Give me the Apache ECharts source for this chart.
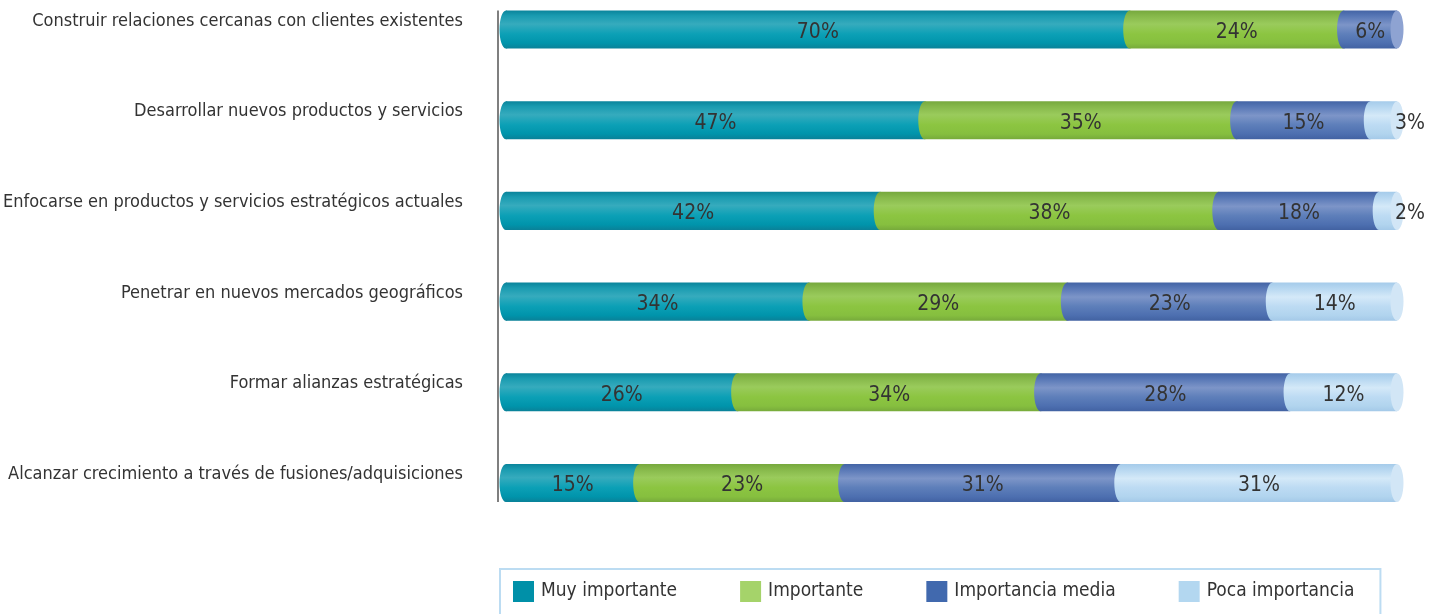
<!DOCTYPE html>
<html>
<head>
<meta charset="utf-8">
<script src="https://cdn.jsdelivr.net/npm/echarts@6/dist/echarts.min.js"></script>
<style>
  html, body { margin: 0; padding: 0; background: #ffffff; }
  #chart { width: 1441px; height: 614px; }
</style>
</head>
<body>
<div id="chart"></div>
<script>
// Prioridades estratégicas: porcentaje de respuestas por nivel de importancia
const categories = [
  'Construir relaciones cercanas con clientes existentes',
  'Desarrollar nuevos productos y servicios',
  'Enfocarse en productos y servicios estratégicos actuales',
  'Penetrar en nuevos mercados geográficos',
  'Formar alianzas estratégicas',
  'Alcanzar crecimiento a través de fusiones/adquisiciones'
];
const seriesNames = ['Muy importante', 'Importante', 'Importancia media', 'Poca importancia'];
const muyImportante    = [70, 47, 42, 34, 26, 15];
const importante       = [24, 35, 38, 29, 34, 23];
const importanciaMedia = [6, 15, 18, 23, 28, 31];
const pocaImportancia  = [0, 3, 2, 14, 12, 31];

const FONT = "'DejaVu Sans Condensed', 'Liberation Sans Narrow', 'Roboto Condensed', sans-serif";
const TEXT_COLOR = '#333333';

// Cylinder shading per level: flat legend colour, body gradient, end-cap colour
const palette = [
  { flat: '#0090a8', cap: '#3aaabd',
    stops: [[0, '#0a849b'], [0.14, '#1a9bb0'], [0.36, '#36abbd'], [0.62, '#0ca0b6'], [0.86, '#0094ab'], [1, '#0a8198']] },
  { flat: '#a5d36a', cap: '#b3da80',
    stops: [[0, '#76a83d'], [0.14, '#86b84a'], [0.36, '#9acb5c'], [0.62, '#8cc541'], [0.86, '#86bf3f'], [1, '#77aa3b']] },
  { flat: '#4169ae', cap: '#8ea3d2',
    stops: [[0, '#4364a5'], [0.14, '#5676b5'], [0.38, '#7d95c8'], [0.62, '#5e7fba'], [0.86, '#4d6fb0'], [1, '#4262a2']] },
  { flat: '#b3d7f0', cap: '#d2e6f6',
    stops: [[0, '#a5cbea'], [0.14, '#b5d6f0'], [0.38, '#d4e9f8'], [0.62, '#bddbf3'], [0.86, '#b1d4ee'], [1, '#a4c9e8']] }
];

const levels = [muyImportante, importante, importanciaMedia, pocaImportancia];

// Cumulative start/end per segment, flagging the segment that closes each bar
function buildSeriesData(levelIndex) {
  return categories.map((c, ci) => {
    let start = 0;
    for (let k = 0; k < levelIndex; k++) start += levels[k][ci];
    const v = levels[levelIndex][ci];
    let lastIdx = 0;
    for (let k = 0; k < levels.length; k++) if (levels[k][ci] > 0) lastIdx = k;
    return [start, start + v, ci, v, lastIdx === levelIndex ? 1 : 0];
  });
}

function gradient(stops) {
  return new echarts.graphic.LinearGradient(0, 0, 0, 1,
    stops.map(s => ({ offset: s[0], color: s[1] })));
}

function makeRenderItem(levelIndex) {
  const pal = palette[levelIndex];
  return function (params, api) {
    const v = api.value(3);
    if (!v) return null;
    const ci = api.value(2);
    const p0 = api.coord([api.value(0), ci]);
    const p1 = api.coord([api.value(1), ci]);
    const h = api.size([0, 1])[1] * 0.42;
    const ry = h / 2;
    const rx = 6.5;
    const cy = p0[1];
    const children = [
      { type: 'rect', shape: { x: p0[0], y: cy - ry, width: p1[0] - p0[0], height: h },
        style: { fill: gradient(pal.stops) } },
      { type: 'ellipse', shape: { cx: p0[0], cy: cy, rx: rx, ry: ry },
        style: { fill: gradient(pal.stops) } }
    ];
    const last = api.value(4) === 1;
    if (last) {
      children.push({ type: 'ellipse', shape: { cx: p1[0], cy: cy, rx: rx, ry: ry },
        style: { fill: pal.cap } });
    }
    const outside = last && v < 5;
    children.push({
      type: 'text',
      style: {
        text: v + '%',
        x: outside ? p1[0] + 13 : (p0[0] + p1[0]) / 2,
        y: cy + 3,
        align: 'center',
        verticalAlign: 'middle',
        fill: TEXT_COLOR,
        font: '21px ' + FONT
      },
      z2: 10
    });
    return { type: 'group', children: children };
  };
}

const chart = echarts.init(document.getElementById('chart'), null, { renderer: 'canvas' });

const option = {
  animation: false,
  backgroundColor: '#ffffff',
  grid: { left: 506, right: 44, top: 29.5, bottom: 131, containLabel: false, outerBoundsMode: 'none' },
  xAxis: { type: 'value', min: 0, max: 100, show: false },
  yAxis: {
    type: 'category',
    data: categories,
    inverse: true,
    boundaryGap: false,
    axisLine: { show: false },
    axisTick: { show: false },
    splitLine: { show: false },
    axisLabel: {
      margin: 43,
      color: TEXT_COLOR,
      fontFamily: FONT,
      fontSize: 18,
      verticalAlign: 'bottom',
      lineHeight: 17
    }
  },
  legend: {
    left: 500,
    top: 569,
    padding: [12, 26, 40, 13],
    itemGap: 63,
    itemWidth: 21,
    itemHeight: 21,
    icon: 'rect',
    borderColor: '#bcdcf2',
    borderWidth: 2,
    textStyle: { color: TEXT_COLOR, fontFamily: FONT, fontSize: 19, padding: [0, 0, 0, 2] },
    data: seriesNames
  },
  series: seriesNames.map((name, i) => ({
    name: name,
    type: 'custom',
    itemStyle: { color: palette[i].flat },
    encode: { x: [0, 1], y: 2 },
    renderItem: makeRenderItem(i),
    data: buildSeriesData(i)
  }))
};

chart.setOption(option);

// Vertical baseline spanning the bars, just left of the zero position
const firstPt = chart.convertToPixel({ xAxisIndex: 0, yAxisIndex: 0 }, [0, 0]);
const lastPt = chart.convertToPixel({ xAxisIndex: 0, yAxisIndex: 0 }, [0, categories.length - 1]);
const halfBar = (lastPt[1] - firstPt[1]) / (categories.length - 1) * 0.21;
chart.setOption({
  graphic: [{
    type: 'line',
    shape: { x1: firstPt[0] - 8, y1: firstPt[1] - halfBar, x2: firstPt[0] - 8, y2: lastPt[1] + halfBar },
    style: { stroke: '#555555', lineWidth: 1.5 }
  }]
});
</script>
</body>
</html>
